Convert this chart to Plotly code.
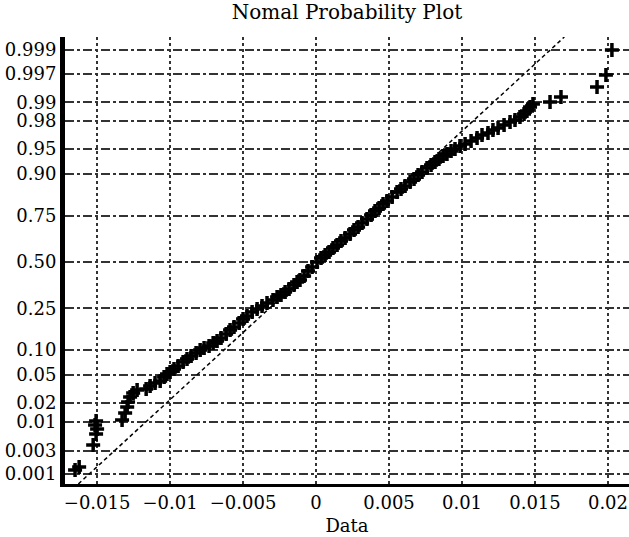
import plotly.graph_objects as go
from statistics import NormalDist

# sorted sample values (x) and the normal scores they were plotted at (y)
data_values = [
    -0.01651, -0.01623, -0.01527, -0.01507, -0.01500, -0.01514, -0.01507,
    -0.01329, -0.01308, -0.01294, -0.01288, -0.01274, -0.01253, -0.01226,
    -0.01164, -0.01137, -0.01103,
    -0.01068, -0.01041, -0.01021, -0.01000, -0.00973, -0.00945, -0.00911,
    -0.00884, -0.00856, -0.00822, -0.00794, -0.00767, -0.00733, -0.00705,
    -0.00678, -0.00651, -0.00616, -0.00589, -0.00562, -0.00527, -0.00500,
    -0.00473, -0.00438, -0.00404, -0.00370, -0.00336, -0.00295, -0.00267,
    -0.00240, -0.00212, -0.00185, -0.00151, -0.00130, -0.00110, -0.00082,
    -0.00055, -0.00027, 0.00007, 0.00034, 0.00062, 0.00089, 0.00116,
    0.00144, 0.00171, 0.00199, 0.00233, 0.00260, 0.00288, 0.00315,
    0.00349, 0.00377, 0.00404, 0.00432, 0.00459, 0.00486, 0.00521,
    0.00555, 0.00582, 0.00610, 0.00644, 0.00671, 0.00699, 0.00726,
    0.00760, 0.00788, 0.00815, 0.00842, 0.00870, 0.00897, 0.00925,
    0.00952, 0.00986, 0.01021, 0.01062, 0.01103, 0.01137, 0.01178,
    0.01212, 0.01247, 0.01288, 0.01329, 0.01363, 0.01397, 0.01425,
    0.01445, 0.01466, 0.01486,
    0.01603, 0.01678, 0.01925, 0.01986, 0.02027,
]
normal_scores = [
    -3.032, -2.988, -2.668, -2.507, -2.434, -2.376, -2.318,
    -2.303, -2.201, -2.114, -2.041, -1.968, -1.910, -1.866,
    -1.851, -1.808, -1.764,
    -1.735, -1.676, -1.633, -1.603, -1.560, -1.516, -1.458,
    -1.414, -1.370, -1.327, -1.283, -1.254, -1.224, -1.181,
    -1.152, -1.108, -1.050, -0.991, -0.948, -0.889, -0.831,
    -0.787, -0.729, -0.685, -0.641, -0.598, -0.554, -0.510,
    -0.481, -0.437, -0.394, -0.335, -0.292, -0.262, -0.204,
    -0.131, -0.073, 0.000, 0.058, 0.102, 0.146, 0.204,
    0.248, 0.306, 0.350, 0.408, 0.466, 0.510, 0.569,
    0.627, 0.685, 0.743, 0.787, 0.845, 0.889, 0.948,
    1.020, 1.064, 1.108, 1.166, 1.210, 1.268, 1.312,
    1.370, 1.414, 1.458, 1.501, 1.545, 1.574, 1.618,
    1.647, 1.691, 1.720, 1.764, 1.808, 1.851, 1.880,
    1.924, 1.953, 1.997, 2.041, 2.070, 2.114, 2.157,
    2.201, 2.259, 2.303,
    2.332, 2.405, 2.551, 2.726, 3.090,
]

# reference line of the fitted normal
line_mean = 0.00025
line_sd = 0.00511

prob_ticks = [0.001, 0.003, 0.01, 0.02, 0.05, 0.10, 0.25, 0.50, 0.75, 0.90, 0.95, 0.98, 0.99, 0.997, 0.999]
prob_labels = ["0.001", "0.003", "0.01", "0.02", "0.05", "0.10", "0.25", "0.50",
               "0.75", "0.90", "0.95", "0.98", "0.99", "0.997", "0.999"]
x_ticks = [-0.015, -0.01, -0.005, 0, 0.005, 0.01, 0.015, 0.02]
x_labels = ["\u22120.015", "\u22120.01", "\u22120.005", "0", "0.005", "0.01", "0.015", "0.02"]

x_range = [-0.0172, 0.02144]
y_range = [-3.236, 3.28]

nd = NormalDist()
y_tickvals = [nd.inv_cdf(p) for p in prob_ticks]

font = "DejaVu Serif"

fig = go.Figure()

# fitted line, spans the whole y range
fig.add_trace(go.Scatter(
    x=[line_mean + line_sd * y_range[0], line_mean + line_sd * y_range[1]],
    y=y_range,
    mode="lines",
    line=dict(color="black", width=1.5, dash="4px,3px"),
    showlegend=False,
))

fig.add_trace(go.Scatter(
    x=data_values, y=normal_scores,
    mode="markers",
    marker=dict(symbol="cross-thin", size=10, line=dict(color="black", width=3.5)),
    showlegend=False,
))

fig.update_layout(
    width=629, height=537,
    margin=dict(l=65, r=0, t=37, b=53),
    paper_bgcolor="white", plot_bgcolor="white",
    font=dict(family=font, size=18, color="black"),
    title=dict(text="Nomal Probability Plot", x=0.5, xref="paper", xanchor="center",
               y=1 - 12 / 537, yref="container", yanchor="middle",
               font=dict(family=font, size=20, color="black")),
)

fig.update_xaxes(
    range=x_range, tickvals=x_ticks, ticktext=x_labels,
    showgrid=True, gridcolor="#333", gridwidth=1.5, griddash="dot",
    showline=True, linecolor="black", linewidth=3,
    zeroline=False, ticks="",
    tickfont=dict(size=18),
    title=dict(text="Data", standoff=8, font=dict(size=18)),
)
fig.update_yaxes(
    range=y_range, tickvals=y_tickvals, ticktext=prob_labels,
    showgrid=True, gridcolor="#333", gridwidth=1.5, griddash="dashdot",
    showline=True, linecolor="black", linewidth=5,
    zeroline=False, ticks="",
    tickfont=dict(size=18),
)

# drop the default page margin so the figure sits at the window corner
fig.write_html("out.html", config={"displayModeBar": False},
               post_script="document.body.style.margin='0';")
